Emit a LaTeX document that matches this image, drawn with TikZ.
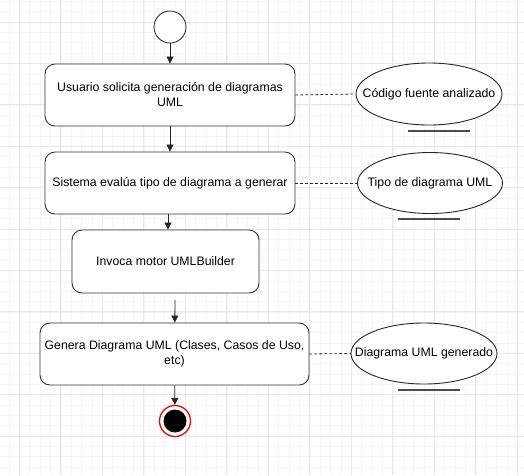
\documentclass[tikz,border=0pt]{standalone}
\usepackage{fontspec}
\setmainfont{Liberation Sans}
\usetikzlibrary{arrows.meta,shapes.geometric}

\newcommand{\objtext}[1]{\makebox[0pt]{#1}}

\begin{document}
\begin{tikzpicture}[x=1pt, y=-1pt,
    act/.style = {draw=black!80, line width=0.9pt, rounded corners=10pt, align=center, inner sep=2pt, font=\fontsize{12.3}{15}\selectfont},
    obj/.style = {draw=black!85, ellipse, line width=0.9pt, inner sep=0pt, font=\fontsize{12.3}{15}\selectfont},
    arr/.style = {-{Triangle[length=7pt,width=7pt]}, line width=0.8pt, black!85},
    link/.style = {dash pattern=on 2.5pt off 2.5pt, line width=0.8pt, black!85}]
    \useasboundingbox (0,0) rectangle (524,475);
    % grid
    \foreach \i in {-1,...,49} {
        \pgfmathsetmacro\gx{19.3+10.375*\i}
        \draw[black!4, line width=0.5pt] (\gx,0) -- (\gx,475);
    }
    \foreach \j in {-2,...,44} {
        \pgfmathsetmacro\gy{22+10.35*\j}
        \draw[black!4, line width=0.5pt] (0,\gy) -- (524,\gy);
    }
    \foreach \i in {0,...,12} {
        \pgfmathsetmacro\gx{19.3+41.5*\i}
        \draw[black!9, line width=0.7pt] (\gx,0) -- (\gx,475);
    }
    \foreach \j in {0,...,11} {
        \pgfmathsetmacro\gy{22+41.4*\j}
        \draw[black!9, line width=0.7pt] (0,\gy) -- (524,\gy);
    }
    % states
    \node[draw=black!80, line width=0.9pt, circle, fill=white, minimum size=32pt, inner sep=0pt] (start) at (170,27) {};
    \node[act, minimum width=250pt, minimum height=62pt, fill=white] (act1) at (170,95) {Usuario solicita generación de diagramas\\UML};
    \node[act, minimum width=250pt, minimum height=62pt, fill=white] (act2) at (170,183) {Sistema evalúa tipo de diagrama a generar};
    \node[act, minimum width=187pt, minimum height=63pt, fill=white] (act3) at (165.5,261.5) {Invoca motor UMLBuilder};
    \node[act, minimum width=269pt, minimum height=62pt, fill=white] (act4) at (174.5,354) {Genera Diagrama UML (Clases, Casos de Uso,\\etc)};
    \node[draw=red, line width=1.3pt, circle, fill=white, minimum size=31pt, inner sep=0pt] (end) at (175,421) {};
    \node[circle, fill=black, minimum size=23pt, inner sep=0pt] (endin) at (end) {};
    % objects
    \node[obj, minimum width=146pt, minimum height=62pt, fill=white] (obj1) at (429,94) {\objtext{Código fuente analizado}};
    \node[obj, minimum width=145pt, minimum height=61pt, fill=white] (obj2) at (430,183) {\objtext{Tipo de diagrama UML}};
    \node[obj, minimum width=146pt, minimum height=61pt, fill=white] (obj3) at (424,353.5) {\objtext{Diagrama UML generado}};
    \draw[black!70, line width=1.3pt] (408,131) -- (470,131);
    \draw[black!70, line width=1.3pt] (398,219) -- (460,219);
    \draw[black!70, line width=1.3pt] (398,390) -- (460,390);
    % flow
    \coordinate (a3) at (175,300);
    \draw[arr] (start) -- (act1);
    \draw[arr] (act1) -- (act2);
    \draw[arr] (act2.south -| 168,0) -- (act3.north -| 168,0);
    \draw[arr] (a3) -- (act4);
    \draw[arr] (act4) -- (end);
    \draw[link] (act1.east) -- (obj1.west);
    \draw[link] (act2.east) -- (obj2.west);
    \draw[link] (act4.east) -- (obj3.west);
\end{tikzpicture}
\end{document}
